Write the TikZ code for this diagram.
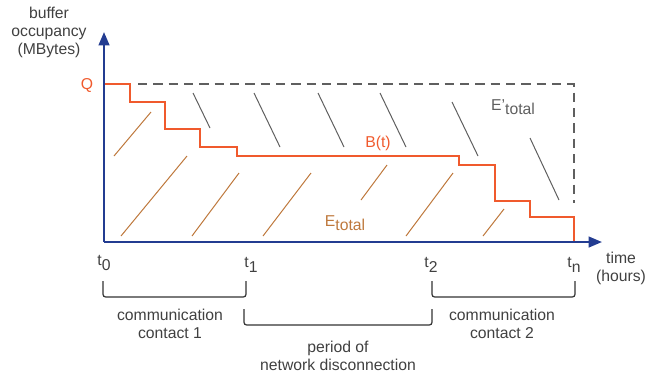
\documentclass[tikz,border=0pt]{standalone}
\usepackage{fontspec}
\setmainfont{Liberation Sans}
\usetikzlibrary{arrows.meta}
\definecolor{axisblue}{RGB}{35,60,145}
\definecolor{bred}{RGB}{240,90,45}
\definecolor{ebrown}{RGB}{190,120,60}
\definecolor{egray}{RGB}{95,95,95}
\newcommand{\lowr}[1]{\raisebox{-0.55ex}{#1}}

\begin{document}
\begin{tikzpicture}[x=0.75pt,y=-0.75pt,
	lbl/.style = {inner sep=0pt, font=\fontsize{11.8}{13.5}\selectfont, text=black!75, align=center},
	hatchin/.style = {ebrown, line width=0.75pt},
	hatchout/.style = {egray, line width=0.75pt},
	brace/.style = {black!80, line width=0.9pt, rounded corners=2pt}]
				\useasboundingbox (0,0) rectangle (646,376);
				\coordinate (O) at (104,242);
				\coordinate (Ytop) at (104,32);
				\coordinate (Xend) at (602,242);
				\begin{scope}[every node/.style={lbl}]
					\node (ylab) at (49,32) {buffer\\occupancy\\(MBytes)};
					\node[text=bred] (Q) at (87,85) {Q};
					\node[text=bred] (Bt) at (378,143) {B(t)};
					\node[text=ebrown] (Etot) at (345,223) {E\lowr{total}};
					\node[text=egray] (Eprime) at (513,107) {E’\lowr{total}};
					\node (t0) at (104,263) {t\lowr{0}};
					\node (t1) at (251,265) {t\lowr{1}};
					\node (t2) at (431,265) {t\lowr{2}};
					\node (tn) at (574,265) {t\lowr{n}};
					\node (tlab) at (621,268) {time\\(hours)};
					\node (cc1) at (170,324) {communication\\contact 1};
					\node (disc) at (338,356) {period of\\network disconnection};
					\node (cc2) at (502,324) {communication\\contact 2};
				\end{scope}
				\draw [egray,line width=1.1pt,dash pattern=on 7pt off 4.5pt] (138,84) -- (574,84) -- (574,203);
				\draw [hatchout] (193,93) -- (210,128);
				\draw [hatchout] (254,93) -- (280,147);
				\draw [hatchout] (318,93) -- (344,147);
				\draw [hatchout] (380,93) -- (406,147);
				\draw [hatchout] (452,102) -- (478,156);
				\draw [hatchout] (530,138) -- (559,200);
				\draw [hatchin] (114,156) -- (151,112);
				\draw [hatchin] (121,236) -- (187,156);
				\draw [hatchin] (192,236) -- (239,173);
				\draw [hatchin] (263,236) -- (311,173);
				\draw [hatchin] (361,200) -- (387,165);
				\draw [hatchin] (406,236) -- (453,173);
				\draw [hatchin] (483,236) -- (504,209);
				\draw [bred,line width=1.6pt] (104,84) -- (130,84) -- (130,102) -- (165,102) -- (165,129) -- (200,129) -- (200,147) -- (237,147) -- (237,156) -- (459,156) -- (459,165) -- (495,165) -- (495,201) -- (530,201) -- (530,217) -- (574,217) -- (574,242);
				\draw [axisblue,line width=1.6pt,-{Triangle[length=10pt,width=8pt]}] (O) -- (Ytop);
				\draw [axisblue,line width=1.6pt,-{Triangle[length=10pt,width=8pt]}] (O) -- (Xend);
				\draw [brace] (103,281) -- (103,297) -- (246,297) -- (246,281);
				\draw [brace] (244,309) -- (244,325) -- (432,325) -- (432,309);
				\draw [brace] (432,281) -- (432,297) -- (575,297) -- (575,281);
			\end{tikzpicture}
\end{document}
